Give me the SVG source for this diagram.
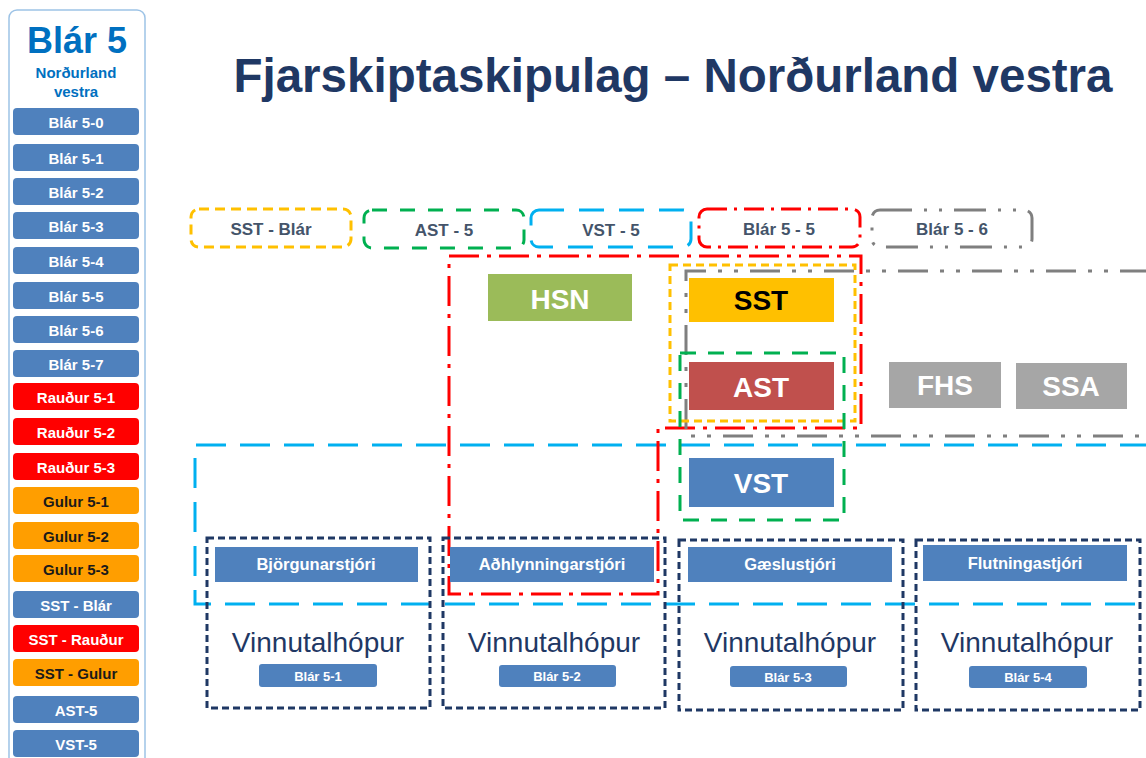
<svg xmlns="http://www.w3.org/2000/svg" width="1146" height="758" viewBox="0 0 1146 758">
<style>
text{font-family:"Liberation Sans",Arial,sans-serif;font-weight:bold;text-anchor:middle}
.bl{fill:#4f81bd}.rd{fill:#ff0000}.or{fill:#ff9e00}
.wt{fill:#fff;font-size:15px}.dk{fill:#1a1a1a;font-size:15px}
.leg{fill:#44546a;font-size:17px}
.big{font-size:28px}
.hdr{fill:#fff;font-size:16.5px}
.vin{fill:#1f3864;font-size:28px;font-weight:normal}
.sm{fill:#fff;font-size:13px}
.ln{fill:none;stroke-width:3}
.y{stroke:#ffc000;stroke-dasharray:8 5}
.g{stroke:#00b050;stroke-dasharray:16 12}
.b{stroke:#00b0f0;stroke-dasharray:30 14}
.r{stroke:#ff0000;stroke-dasharray:30 8 4 8}
.k{stroke:#7f7f7f;stroke-dasharray:30 12 4 12 4 12}
.n{stroke:#1f3864;stroke-dasharray:7 4}
.ly{stroke:#ffc000;stroke-dasharray:10 6}
.lg{stroke:#00b050;stroke-dasharray:15 13}
.lb{stroke:#00b0f0;stroke-dasharray:25 15}
.lr{stroke:#ff0000;stroke-dasharray:20 7 3 7}
.lk{stroke:#7f7f7f;stroke-dasharray:32 12 3 12 3 12}
</style>
<rect width="1146" height="758" fill="#fff"/>
<g id="panel">
<rect x="9" y="10" width="136" height="770" rx="8" fill="#fff" stroke="#9dc3e6" stroke-width="1.5"/>
<text x="77" y="53" style="font-size:36px;fill:#0070c0">Blár 5</text>
<text x="76" y="78" style="font-size:15px;fill:#0070c0">Norðurland</text>
<text x="76" y="97" style="font-size:15px;fill:#0070c0">vestra</text>
<g id="btn-b50"><rect class="bl" x="13" y="108" width="126" height="27" rx="4"/><text class="wt" x="76" y="128">Blár 5-0</text></g>
<g id="btn-b51"><rect class="bl" x="13" y="144" width="126" height="27" rx="4"/><text class="wt" x="76" y="164">Blár 5-1</text></g>
<g id="btn-b52"><rect class="bl" x="13" y="178" width="126" height="27" rx="4"/><text class="wt" x="76" y="198">Blár 5-2</text></g>
<g id="btn-b53"><rect class="bl" x="13" y="212" width="126" height="27" rx="4"/><text class="wt" x="76" y="232">Blár 5-3</text></g>
<g id="btn-b54"><rect class="bl" x="13" y="247" width="126" height="27" rx="4"/><text class="wt" x="76" y="267">Blár 5-4</text></g>
<g id="btn-b55"><rect class="bl" x="13" y="282" width="126" height="27" rx="4"/><text class="wt" x="76" y="302">Blár 5-5</text></g>
<g id="btn-b56"><rect class="bl" x="13" y="316" width="126" height="27" rx="4"/><text class="wt" x="76" y="336">Blár 5-6</text></g>
<g id="btn-b57"><rect class="bl" x="13" y="350" width="126" height="27" rx="4"/><text class="wt" x="76" y="370">Blár 5-7</text></g>
<g id="btn-r51"><rect class="rd" x="13" y="383" width="126" height="27" rx="4"/><text class="wt" x="76" y="403">Rauður 5-1</text></g>
<g id="btn-r52"><rect class="rd" x="13" y="418" width="126" height="27" rx="4"/><text class="wt" x="76" y="438">Rauður 5-2</text></g>
<g id="btn-r53"><rect class="rd" x="13" y="453" width="126" height="27" rx="4"/><text class="wt" x="76" y="473">Rauður 5-3</text></g>
<g id="btn-g51"><rect class="or" x="13" y="487" width="126" height="27" rx="4"/><text class="dk" x="76" y="507">Gulur 5-1</text></g>
<g id="btn-g52"><rect class="or" x="13" y="522" width="126" height="27" rx="4"/><text class="dk" x="76" y="542">Gulur 5-2</text></g>
<g id="btn-g53"><rect class="or" x="13" y="555" width="126" height="27" rx="4"/><text class="dk" x="76" y="575">Gulur 5-3</text></g>
<g id="btn-sstb"><rect class="bl" x="13" y="591" width="126" height="27" rx="4"/><text class="wt" x="76" y="611">SST - Blár</text></g>
<g id="btn-sstr"><rect class="rd" x="13" y="625" width="126" height="27" rx="4"/><text class="wt" x="76" y="645">SST - Rauður</text></g>
<g id="btn-sstg"><rect class="or" x="13" y="659" width="126" height="27" rx="4"/><text class="dk" x="76" y="679">SST - Gulur</text></g>
<g id="btn-ast5"><rect class="bl" x="13" y="696" width="126" height="27" rx="4"/><text class="wt" x="76" y="716">AST-5</text></g>
<g id="btn-vst5"><rect class="bl" x="13" y="730" width="126" height="27" rx="4"/><text class="wt" x="76" y="750">VST-5</text></g>
</g>
<g id="title"><text x="673" y="92" style="font-size:47.5px;fill:#1f3864">Fjarskiptaskipulag – Norðurland vestra</text></g>
<g id="legend">
<g id="leg-sst"><rect class="ln ly" x="191" y="209" width="160" height="38" rx="8"/><text class="leg" x="271" y="235">SST - Blár</text></g>
<g id="leg-ast"><rect class="ln lg" x="364" y="210" width="160" height="38" rx="8"/><text class="leg" x="444" y="236">AST - 5</text></g>
<g id="leg-vst"><rect class="ln lb" x="531" y="210" width="160" height="37" rx="8"/><text class="leg" x="611" y="236">VST - 5</text></g>
<g id="leg-b55"><rect class="ln lr" x="699" y="209" width="161" height="38" rx="8"/><text class="leg" x="779" y="235">Blár 5 - 5</text></g>
<g id="leg-b56"><rect class="ln lk" x="872" y="210" width="160" height="37" rx="8"/><text class="leg" x="952" y="235">Blár 5 - 6</text></g>
</g>
<g id="connectors">
<path class="ln b" d="M1150,445 H195 V604 H1150"/>
<path class="ln r" d="M449,256 H861 V428 H658 V594 H449 Z"/>
<path class="ln k" d="M1150,271 H686 V436 H1150"/>
<rect class="ln y" x="670" y="265" width="185" height="156"/>
<rect class="ln g" x="680" y="353" width="164" height="167"/>
</g>
<g id="hsn"><rect x="488" y="274" width="144" height="47" fill="#9bbb59"/><text class="big" x="560" y="309" fill="#fff">HSN</text></g>
<g id="sst"><rect x="689" y="278" width="145" height="44" fill="#ffc000"/><text class="big" x="761" y="310" fill="#000">SST</text></g>
<g id="ast"><rect x="689" y="362" width="145" height="48" fill="#c0504d"/><text class="big" x="761" y="397" fill="#fff">AST</text></g>
<g id="vst"><rect x="689" y="458" width="145" height="49" fill="#4f81bd"/><text class="big" x="761" y="493" fill="#fff">VST</text></g>
<g id="fhs"><rect x="889" y="362" width="112" height="46" fill="#a6a6a6"/><text class="big" x="945" y="395" fill="#fff">FHS</text></g>
<g id="ssa"><rect x="1016" y="363" width="111" height="46" fill="#a6a6a6"/><text class="big" x="1071" y="396" fill="#fff">SSA</text></g>
<g id="team1">
<rect class="ln n" x="207" y="538" width="223" height="170"/>
<rect class="bl" x="215" y="547" width="203" height="35"/><text class="hdr" x="316" y="570">Björgunarstjóri</text>
<text class="vin" x="318" y="652">Vinnutalhópur</text>
<rect class="bl" x="259" y="664" width="118" height="23" rx="3"/><text class="sm" x="318" y="681">Blár 5-1</text>
</g>
<g id="team2">
<rect class="ln n" x="443" y="538" width="222" height="170"/>
<rect class="bl" x="450" y="547" width="204" height="35"/><text class="hdr" x="552" y="570">Aðhlynningarstjóri</text>
<text class="vin" x="554" y="652">Vinnutalhópur</text>
<rect class="bl" x="499" y="665" width="117" height="22" rx="3"/><text class="sm" x="557" y="681">Blár 5-2</text>
</g>
<g id="team3">
<rect class="ln n" x="679" y="540" width="224" height="170"/>
<rect class="bl" x="688" y="547" width="204" height="35"/><text class="hdr" x="790" y="570">Gæslustjóri</text>
<text class="vin" x="790" y="652">Vinnutalhópur</text>
<rect class="bl" x="730" y="666" width="117" height="21" rx="3"/><text class="sm" x="788" y="682">Blár 5-3</text>
</g>
<g id="team4">
<rect class="ln n" x="916" y="540" width="224" height="170"/>
<rect class="bl" x="923" y="545" width="204" height="36"/><text class="hdr" x="1025" y="569">Flutningastjóri</text>
<text class="vin" x="1027" y="652">Vinnutalhópur</text>
<rect class="bl" x="969" y="666" width="118" height="22" rx="3"/><text class="sm" x="1028" y="682">Blár 5-4</text>
</g>
</svg>
